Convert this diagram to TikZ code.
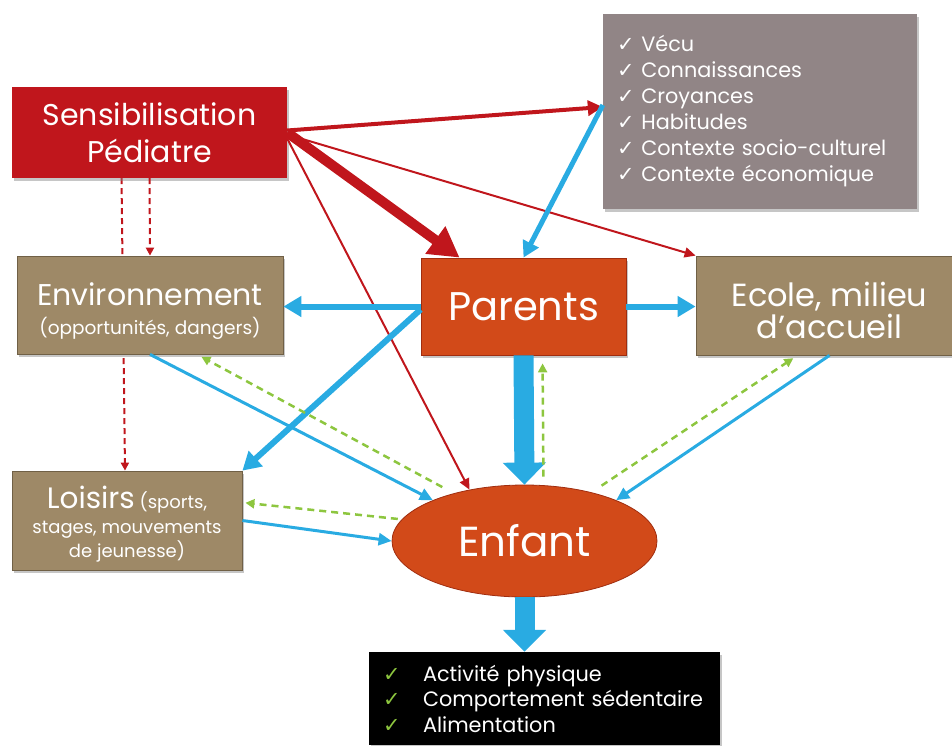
\documentclass[tikz,border=0pt]{standalone}
\usepackage{fontspec}
\setmainfont{Poppins}
\newfontfamily\symfont{DejaVu Sans}
\usetikzlibrary{arrows.meta,shapes.geometric,shadows,backgrounds}

\definecolor{sensred}{RGB}{192,22,28}
\definecolor{listgrey}{RGB}{145,133,134}
\definecolor{tanfill}{RGB}{158,137,103}
\definecolor{tanline}{RGB}{112,96,70}
\definecolor{orangefill}{RGB}{210,74,25}
\definecolor{orangeline}{RGB}{160,45,15}
\definecolor{linkblue}{RGB}{41,171,226}
\definecolor{linkgreen}{RGB}{141,198,63}
\newcommand{\coche}{{\symfont ✓}}

\begin{document}
\begin{tikzpicture}[x=1pt,y=-1pt,
	shade box/.style={drop shadow={shadow xshift=2pt,shadow yshift=-3pt,opacity=0.45}},
	tanbox/.style={shade box,draw=tanline,line width=0.8pt,fill=tanfill,text=white,align=center,inner sep=0pt},
	redthin/.style={draw=sensred,line width=2pt,-{Triangle[length=11pt,width=10pt]}},
	redmid/.style={draw=sensred,line width=4pt,-{Triangle[length=15pt,width=15pt]}},
	redthick/.style={draw=sensred,line width=10pt,-{Triangle[length=30pt,width=32pt]}},
	reddash/.style={draw=sensred,line width=2pt,dash pattern=on 6pt off 4pt,-{Triangle[length=8pt,width=8pt]}},
	bluethin/.style={draw=linkblue,line width=3pt,-{Triangle[length=13pt,width=12pt]}},
	bluemid/.style={draw=linkblue,line width=6pt,-{Triangle[length=18pt,width=20pt]}},
	bluebig/.style={draw=linkblue,line width=20pt,-{Triangle[length=22pt,width=42pt]}},
	greendash/.style={draw=linkgreen,line width=2.5pt,dash pattern=on 7pt off 5pt,-{Triangle[length=9pt,width=9pt]}}]
	\useasboundingbox (0,0) rectangle (952,745);
	
	\node (sens) [shade box,fill=sensred,text=white,align=center,inner sep=0pt,minimum width=275pt,minimum height=91pt,font=\fontsize{30}{37}\selectfont] at (149.5,132.5) {Sensibilisation\\Pédiatre};
	\node (facteurs) [shade box,fill=listgrey,text=white,align=left,inner xsep=14pt,inner ysep=0pt,text width=286pt,minimum height=195pt,font=\fontsize{20.8}{26}\selectfont] at (760,111) {\coche\ Vécu\\\coche\ Connaissances\\\coche\ Croyances\\\coche\ Habitudes\\\coche\ Contexte socio-culturel\\\coche\ Contexte économique};
	\node (env) [tanbox,minimum width=266pt,minimum height=98pt,font=\fontsize{18.5}{29}\selectfont] at (150,305) {{\fontsize{30}{29}\selectfont\rule{0pt}{34pt}Environnement}\\(opportunités, dangers)};
	\node (parents) [shade box,draw=orangeline,line width=0.8pt,fill=orangefill,text=white,inner sep=0pt,minimum width=205pt,minimum height=97pt,font=\fontsize{40}{44}\selectfont] at (523.5,306.5) {Parents};
	\node (ecole) [tanbox,minimum width=267pt,minimum height=99pt,font=\fontsize{32}{32}\selectfont] at (829.5,305.5) {\rule{0pt}{34pt}Ecole, milieu\\d’accueil};
	\node (loisirs) [tanbox,minimum width=230pt,minimum height=99pt,font=\fontsize{18}{24.5}\selectfont] at (127,520.5) {{\fontsize{29.5}{24.5}\selectfont\rule{0pt}{30pt}Loisirs} (sports,\\stages, mouvements\\de jeunesse)};
	\node (enfant) [ellipse,draw=orangeline,line width=0.8pt,fill=orangefill,text=white,inner sep=0pt,minimum width=265pt,minimum height=112pt,font=\fontsize{42}{44}\selectfont] at (524.5,541) {Enfant};
	\node (comport) [shade box,fill=black,text=white,align=left,inner xsep=14pt,inner ysep=0pt,text width=323pt,minimum height=93pt,font=\fontsize{20.8}{25.5}\selectfont] at (544.5,698.5) {\makebox[40pt][l]{\color{linkgreen}\coche}Activité physique\\\makebox[40pt][l]{\color{linkgreen}\coche}Comportement sédentaire\\\makebox[40pt][l]{\color{linkgreen}\coche}Alimentation};
	
	\begin{pgfonlayer}{background}
		\draw [reddash] ([xshift=-28pt]sens.south) -- ([xshift=-2pt]loisirs.north);
	\end{pgfonlayer}
	\draw [reddash] (sens.south) -- (env.north);
	
	\draw [redmid] ([yshift=2pt]sens.east) -- ([yshift=4pt]facteurs.west);
	\draw [redthin] ([yshift=-2pt]sens.east) -- (ecole.north west);
	\draw [redthin] ([yshift=-6pt]sens.east) -- (enfant.137);
	\draw [redthick] (sens.east) -- ([xshift=39pt]parents.north west);
	
	\draw [bluemid,line width=5pt,-{Triangle[length=16pt,width=17pt]}] ([yshift=6pt]facteurs.west) -- (parents.north);
	\draw [bluemid] (parents.west) -- (parents.west -| env.east);
	\draw [bluemid] (parents.east) -- (parents.east -| ecole.west);
	\draw [bluemid] ([yshift=-3pt]parents.west) -- (loisirs.north east);
	\draw [bluebig] (parents.south) -- (enfant.north);
	\draw [bluebig] (enfant.south) -- (comport.north -| enfant.south);
	\draw [bluethin] (env.south) -- (enfant.156);
	\draw [bluethin] (loisirs.east) -- (enfant.west);
	\draw [bluethin] (ecole.south) -- (enfant.24);
	
	\draw [greendash,shorten <=8pt,shorten >=8pt] ([xshift=19pt]enfant.north) -- ([xshift=19pt]parents.south);
	\draw [greendash,shorten <=13pt,shorten >=5pt] (enfant.146) -- ([xshift=47pt]env.south);
	\draw [greendash,shorten <=4pt,shorten >=3pt] (enfant.170) -- ([yshift=18pt]loisirs.east);
	\draw [greendash,shorten <=12pt,shorten >=5pt] (enfant.36) -- ([xshift=-32pt]ecole.south);
\end{tikzpicture}
\end{document}
